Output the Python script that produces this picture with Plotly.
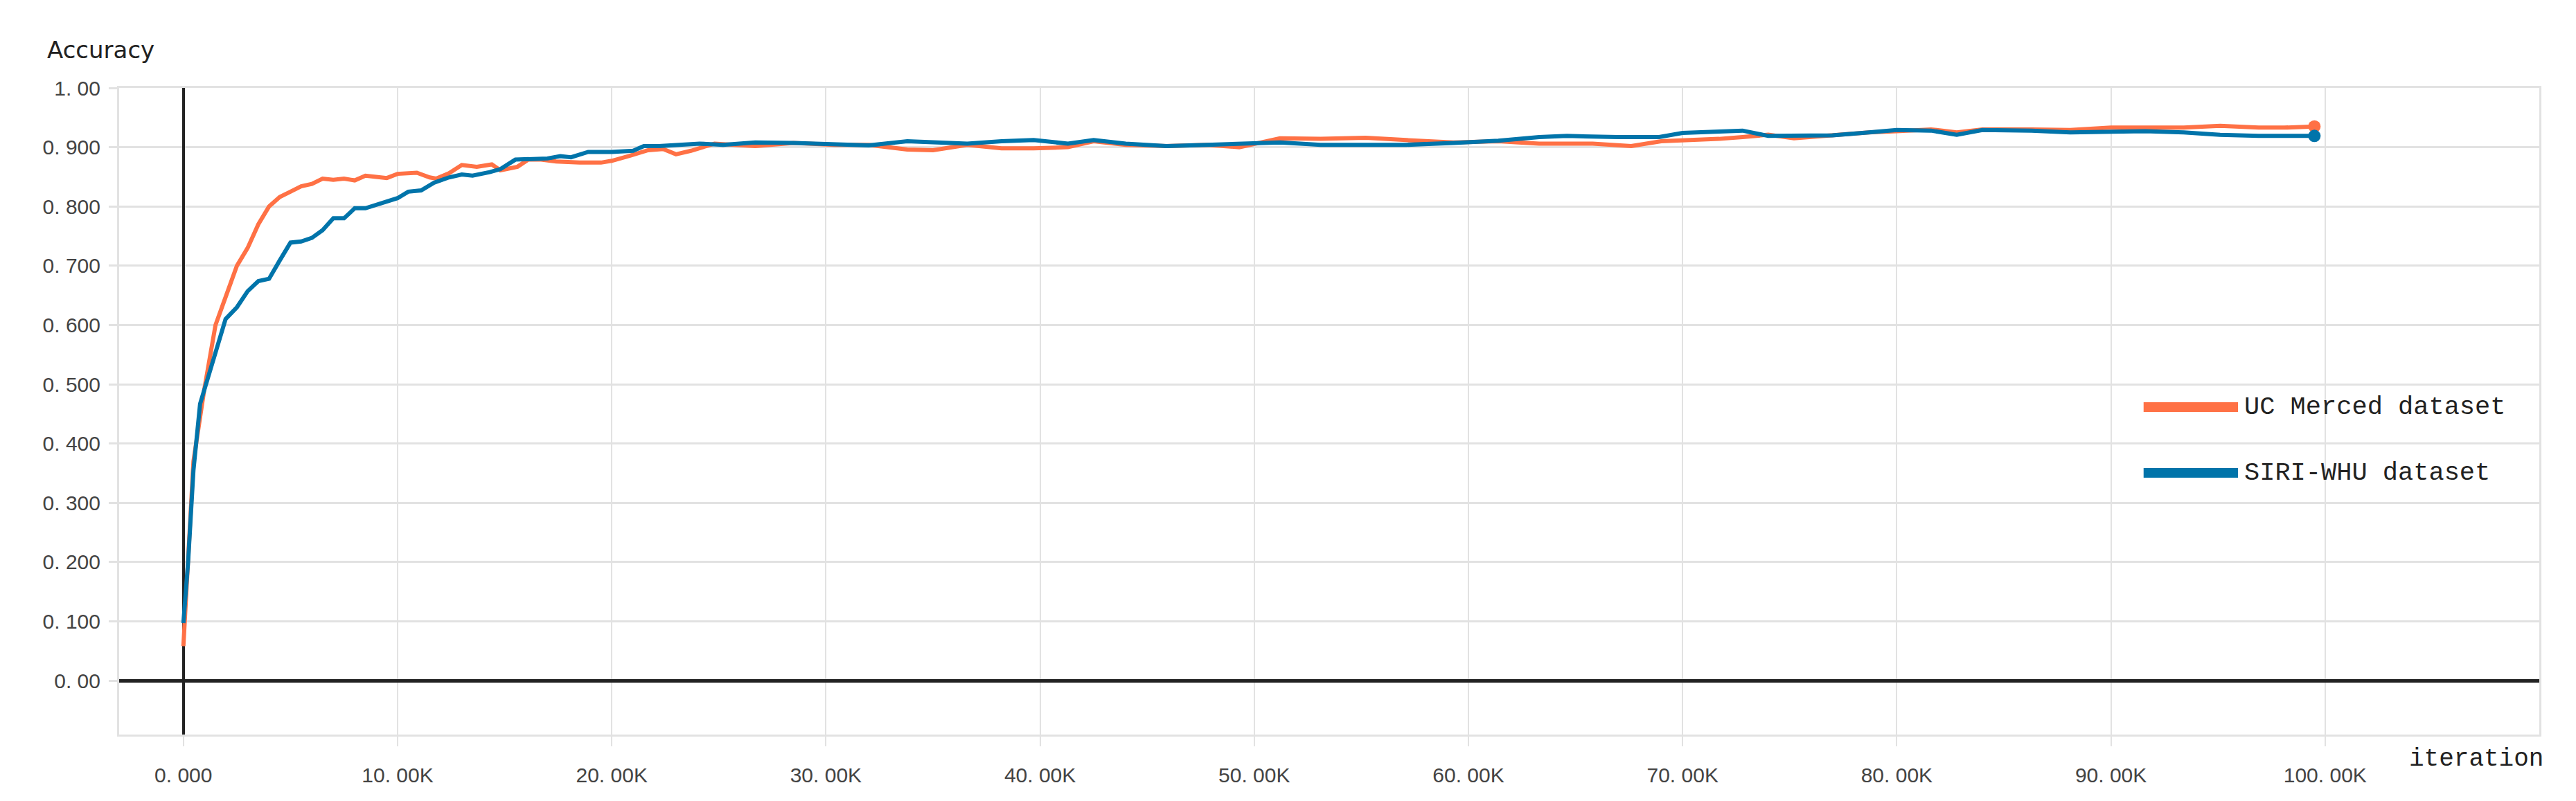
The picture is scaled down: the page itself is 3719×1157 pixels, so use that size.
import plotly.graph_objects as go

# ---- data (iterations in thousands, accuracy) ----
uc_iter_k = [0, 0.25, 0.47, 0.97, 1.5, 2.0, 2.5, 3.0, 3.5, 4.0, 4.5, 5.0, 5.5, 6.0, 6.5, 7.0, 7.5, 8.0,
             8.5, 9.0, 9.5, 10.0, 10.9, 11.5, 11.8, 12.4, 13.0, 13.7, 14.4, 14.8, 15.6, 16.1, 16.7, 17.4,
             18.5, 19.5, 20.0, 20.8, 21.7, 22.4, 23.0, 23.7, 24.8, 26.7, 28.5, 30.4, 32.0, 33.8, 35.0,
             36.6, 38.2, 39.7, 41.3, 42.5, 44.0, 45.9, 47.8, 49.3, 51.2, 53.1, 55.2, 57.1, 59.3, 61.4,
             63.3, 65.8, 67.6, 69.0, 70.0, 71.7, 72.8, 74.0, 75.2, 77.0, 78.7, 80.0, 81.6, 82.8, 84.0,
             86.3, 88.1, 90.0, 91.6, 93.4, 95.1, 96.9, 98.1, 99.5]
uc_acc = [0.058, 0.23, 0.37, 0.49, 0.60, 0.65, 0.70, 0.73, 0.77, 0.80, 0.816, 0.825, 0.834, 0.838, 0.847,
          0.845, 0.847, 0.844, 0.852, 0.850, 0.848, 0.855, 0.857, 0.849, 0.847, 0.856, 0.870, 0.867, 0.871,
          0.861, 0.867, 0.879, 0.879, 0.876, 0.874, 0.874, 0.877, 0.885, 0.895, 0.897, 0.888, 0.894, 0.906,
          0.902, 0.907, 0.904, 0.904, 0.896, 0.895, 0.904, 0.898, 0.898, 0.900, 0.910, 0.904, 0.902, 0.904,
          0.900, 0.915, 0.914, 0.916, 0.912, 0.908, 0.910, 0.906, 0.906, 0.902, 0.910, 0.911, 0.914, 0.917,
          0.921, 0.915, 0.921, 0.925, 0.927, 0.930, 0.925, 0.930, 0.930, 0.929, 0.933, 0.933, 0.933, 0.936,
          0.933, 0.933, 0.935]

siri_iter_k = [0, 0.22, 0.47, 0.78, 1.28, 1.97, 2.5, 3.0, 3.5, 4.0, 4.5, 5.0, 5.5, 6.0, 6.5, 7.0, 7.5, 8.0,
               8.5, 9.0, 9.5, 10.0, 10.5, 11.1, 11.7, 12.4, 13.0, 13.5, 14.3, 14.8, 15.5, 16.3, 17.0, 17.6,
               18.1, 18.9, 20.0, 21.0, 21.5, 22.2, 23.0, 24.1, 25.2, 26.7, 28.5, 30.4, 32.0, 33.8, 35.0,
               36.6, 38.2, 39.7, 41.3, 42.5, 44.0, 45.9, 47.8, 49.3, 51.2, 53.1, 55.2, 57.1, 59.3, 61.4,
               63.3, 64.6, 67.0, 68.9, 70.0, 71.7, 72.8, 74.0, 75.2, 77.0, 78.7, 80.0, 81.6, 82.8, 84.0,
               86.3, 88.1, 90.0, 91.6, 93.4, 95.1, 96.9, 98.1, 99.5]
siri_acc = [0.097, 0.20, 0.355, 0.467, 0.527, 0.61, 0.63, 0.657, 0.674, 0.678, 0.709, 0.739, 0.741, 0.747,
            0.76, 0.78, 0.78, 0.797, 0.797, 0.803, 0.808, 0.814, 0.825, 0.827, 0.840, 0.849, 0.854, 0.852,
            0.858, 0.863, 0.879, 0.881, 0.881, 0.885, 0.883, 0.892, 0.892, 0.894, 0.902, 0.902, 0.903, 0.906,
            0.904, 0.908, 0.907, 0.904, 0.903, 0.910, 0.908, 0.906, 0.910, 0.912, 0.906, 0.912, 0.906, 0.902,
            0.904, 0.906, 0.908, 0.904, 0.904, 0.904, 0.907, 0.911, 0.917, 0.919, 0.917, 0.917, 0.924, 0.926,
            0.928, 0.919, 0.919, 0.920, 0.925, 0.929, 0.928, 0.921, 0.929, 0.928, 0.925, 0.927, 0.927, 0.925,
            0.921, 0.919, 0.919, 0.919]

series_names = ["UC Merced dataset", "SIRI-WHU dataset"]
x_tick_vals_k = [0, 10, 20, 30, 40, 50, 60, 70, 80, 90, 100]
x_tick_text = ["0. 000", "10. 00K", "20. 00K", "30. 00K", "40. 00K", "50. 00K",
               "60. 00K", "70. 00K", "80. 00K", "90. 00K", "100. 00K"]
y_tick_vals = [0, 0.1, 0.2, 0.3, 0.4, 0.5, 0.6, 0.7, 0.8, 0.9, 1.0]
y_tick_text = ["0. 00", "0. 100", "0. 200", "0. 300", "0. 400", "0. 500",
               "0. 600", "0. 700", "0. 800", "0. 900", "1. 00"]

ORANGE = "#FF7145"
BLUE = "#0074AA"
GRID = "#e2e2e2"

fig = go.Figure()
for xs, ys, col, name in [(uc_iter_k, uc_acc, ORANGE, series_names[0]),
                          (siri_iter_k, siri_acc, BLUE, series_names[1])]:
    fig.add_trace(go.Scatter(x=xs, y=ys, mode="lines", name=name,
                             line=dict(color=col, width=6), showlegend=False))
    fig.add_trace(go.Scatter(x=[xs[-1]], y=[ys[-1]], mode="markers", name=name,
                             marker=dict(color=col, size=18), showlegend=False))

# custom legend (line samples + labels)
legend_rows = [(series_names[0], ORANGE, 0.5064), (series_names[1], BLUE, 0.4047)]
for name, col, yp in legend_rows:
    fig.add_shape(type="line", xref="paper", yref="paper", x0=0.8365, x1=0.8755, y0=yp, y1=yp,
                  line=dict(color=col, width=14))
    fig.add_annotation(text=name, xref="paper", yref="paper", x=0.8775, y=yp, xanchor="left",
                       yanchor="middle", showarrow=False,
                       font=dict(family="Liberation Mono, DejaVu Sans Mono, monospace", size=37, color="#222"))

fig.add_annotation(text="Accuracy", xref="paper", yref="paper", x=-0.0075, y=1.059, showarrow=False,
                   xanchor="center", yanchor="middle",
                   font=dict(family="DejaVu Sans, sans-serif", size=34, color="#222"))
fig.add_annotation(text="iteration", xref="paper", yref="paper", x=0.974, y=-0.0385, showarrow=False,
                   xanchor="center", yanchor="middle",
                   font=dict(family="Liberation Mono, DejaVu Sans Mono, monospace", size=36, color="#222"))

fig.update_layout(
    width=3719, height=1157, autosize=False,
    margin=dict(l=172, r=53, t=127, b=96),
    paper_bgcolor="white", plot_bgcolor="white",
    showlegend=False,
    xaxis=dict(range=[-3.0, 110.0], tickvals=x_tick_vals_k, ticktext=x_tick_text,
               showgrid=True, gridcolor=GRID, gridwidth=2,
               zeroline=True, zerolinecolor="#222", zerolinewidth=4,
               showline=True, linecolor=GRID, linewidth=3, mirror=True,
               ticks="outside", ticklen=14, tickcolor=GRID, tickwidth=2,
               ticklabelstandoff=16,
               tickfont=dict(family="Liberation Sans, Arial, sans-serif", size=30, color="#444")),
    yaxis=dict(range=[-0.091, 1.0], tickvals=y_tick_vals, ticktext=y_tick_text,
               showgrid=True, gridcolor=GRID, gridwidth=3,
               zeroline=True, zerolinecolor="#222", zerolinewidth=5,
               showline=True, linecolor=GRID, linewidth=3, mirror=True,
               ticks="outside", ticklen=12, tickcolor=GRID, tickwidth=3,
               ticklabelstandoff=6,
               tickfont=dict(family="Liberation Sans, Arial, sans-serif", size=30, color="#444")),
)

fig.write_html("out.html", config={"displayModeBar": False},
               post_script="document.body.style.margin='0';document.body.style.overflow='hidden';")
